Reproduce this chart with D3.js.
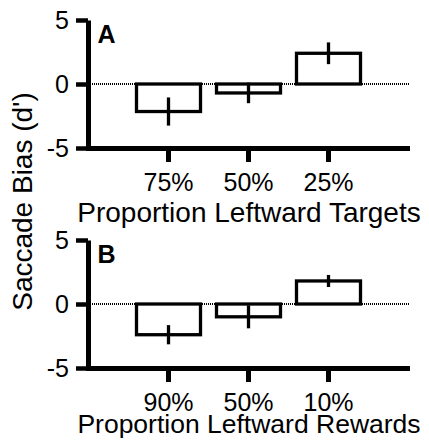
<!DOCTYPE html>
<html>
<head>
<meta charset="utf-8">
<script src="https://cdn.jsdelivr.net/npm/d3@7"></script>
<style>
  body { margin: 0; background: #fff; }
  svg { display: block; font-family: "Liberation Sans", Arial, sans-serif; }
</style>
</head>
<body>
<svg id="chart"></svg>
<script>
// panel A: proportion of leftward targets
const targetLabels = ["75%", "50%", "25%"];
const targetBias = [-2.15, -0.7, 2.4];
const targetErr = [1.1, 0.8, 0.85];

// panel B: proportion of leftward rewards
const rewardLabels = ["90%", "50%", "10%"];
const rewardBias = [-2.4, -1.0, 1.8];
const rewardErr = [0.75, 0.9, 0.47];

const yTicks = [-5, 0, 5];

const panels = [
  { letter: "A", labels: targetLabels, bias: targetBias, err: targetErr,
    title: "Proportion Leftward Targets", top: 0, titleY: 222, titleSize: 28 },
  { letter: "B", labels: rewardLabels, bias: rewardBias, err: rewardErr,
    title: "Proportion Leftward Rewards", top: 220, titleY: 213, titleSize: 26.5 }
];

let svgWidth = 429,
  svgHeight = 446;
let left = 88,
  right = 410,
  plotTop = 20,
  plotBottom = 148;

let svg = d3.select("#chart").attr("width", svgWidth).attr("height", svgHeight);

let y = d3.scaleLinear().domain([-5, 5]).range([plotBottom, plotTop]);

panels.forEach(function(p) {
  let data = p.labels.map(function(l, i) {
    return { label: l, value: p.bias[i], err: p.err[i] };
  });
  let x = d3
    .scaleBand()
    .domain(p.labels)
    .range([128.5, 368.5])
    .paddingInner(0.2)
    .paddingOuter(0.1);

  let g = svg.append("g").attr("transform", "translate(0," + p.top + ")");

  // dotted zero line
  g.append("line")
    .attr("x1", left)
    .attr("x2", right)
    .attr("y1", y(0))
    .attr("y2", y(0))
    .attr("stroke", "#000")
    .attr("stroke-width", 2)
    .attr("stroke-dasharray", "1,1")
    .attr("shape-rendering", "crispEdges");

  // bars
  g.selectAll("rect.bar")
    .data(data)
    .join("rect")
    .attr("class", "bar")
    .attr("x", d => x(d.label))
    .attr("width", x.bandwidth())
    .attr("y", d => y(Math.max(0, d.value)))
    .attr("height", d => Math.abs(y(d.value) - y(0)))
    .attr("fill", "#fff")
    .attr("stroke", "#000")
    .attr("stroke-width", 3.3);

  // error bars (no caps)
  g.selectAll("line.err")
    .data(data)
    .join("line")
    .attr("class", "err")
    .attr("x1", d => x(d.label) + x.bandwidth() / 2)
    .attr("x2", d => x(d.label) + x.bandwidth() / 2)
    .attr("y1", d => y(d.value + d.err))
    .attr("y2", d => y(d.value - d.err))
    .attr("stroke", "#000")
    .attr("stroke-width", 3.3);

  // y axis, plain hyphen for negatives
  let yAxis = g
    .append("g")
    .attr("transform", "translate(" + left + ",0)")
    .call(
      d3.axisLeft(y)
        .tickValues(yTicks)
        .tickFormat(d => String(d))
        .tickSize(12)
        .tickSizeOuter(0)
        .tickPadding(7)
    );
  yAxis.select(".domain").attr("stroke-width", 5);
  yAxis.selectAll(".tick line").attr("stroke-width", 4.5);
  yAxis.selectAll("text")
    .attr("font-size", 25)
    .attr("font-family", "Liberation Sans, Arial, sans-serif")
    .attr("fill", "#000");

  // x axis
  let xAxis = g
    .append("g")
    .attr("transform", "translate(0," + plotBottom + ")")
    .call(d3.axisBottom(x).tickSize(14).tickSizeOuter(0).tickPadding(11));
  xAxis.select(".domain").remove();
  xAxis.selectAll(".tick line").attr("stroke-width", 5);
  xAxis.selectAll("text")
    .attr("font-size", 25)
    .attr("font-family", "Liberation Sans, Arial, sans-serif")
    .attr("fill", "#000");
  g.append("line")
    .attr("x1", left - 2)
    .attr("x2", right)
    .attr("y1", plotBottom + 0.5)
    .attr("y2", plotBottom + 0.5)
    .attr("stroke", "#000")
    .attr("stroke-width", 5);

  // x axis title
  g.append("text")
    .attr("x", (left + right) / 2)
    .attr("y", p.titleY)
    .attr("text-anchor", "middle")
    .attr("font-size", p.titleSize)
    .text(p.title);

  // panel letter
  g.append("text")
    .attr("x", 97.5)
    .attr("y", 43)
    .attr("font-size", 25)
    .attr("font-weight", "bold")
    .text(p.letter);
});

// shared y axis title
svg.append("text")
  .attr("transform", "translate(32,201.5) rotate(-90)")
  .attr("text-anchor", "middle")
  .attr("font-size", 28)
  .text("Saccade Bias (d')");
</script>
</body>
</html>
